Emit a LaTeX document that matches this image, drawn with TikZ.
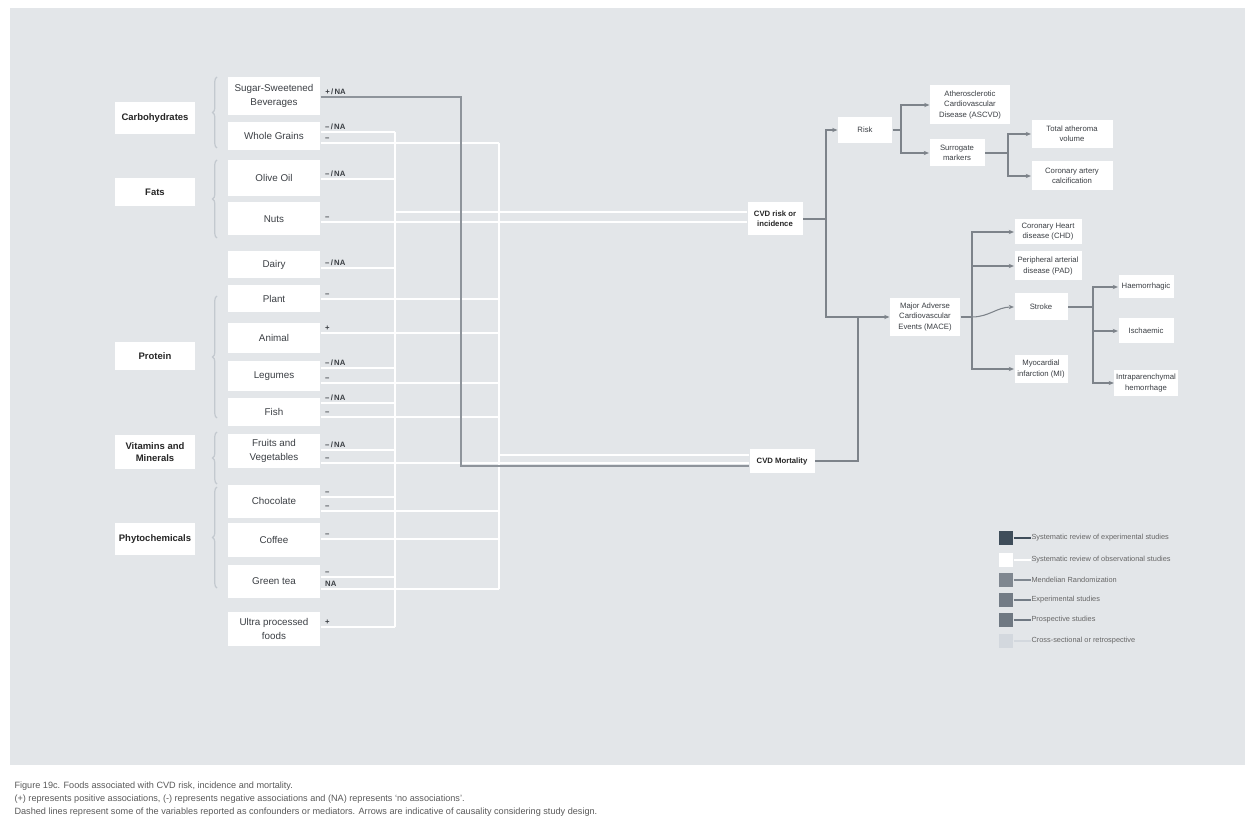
\documentclass[tikz,border=0pt]{standalone}
\usepackage{fontspec}
\setsansfont{Liberation Sans}
\usetikzlibrary{arrows.meta, positioning, calc, decorations.pathreplacing}
\definecolor{cpanel}{HTML}{E3E6E9}
\definecolor{cline}{HTML}{7D838A}
\definecolor{cdark}{HTML}{8E949B}
\definecolor{ctext}{HTML}{3B3F44}
\definecolor{cbrace}{HTML}{C3C9CF}
\definecolor{clegA}{HTML}{3F4D5A}
\definecolor{clegC}{HTML}{7F8790}
\definecolor{clegD}{HTML}{737C86}
\definecolor{clegE}{HTML}{6F7882}
\definecolor{clegF}{HTML}{D3D8DE}
\newcommand\minusna{–\,/\,NA}
\newcommand\plusna{+\,/\,NA}
\tikzset{
  every picture/.style={font=\sffamily, line width=0.6pt},
  box/.style={fill=white, align=center, inner sep=1pt, text=ctext},
  cat/.style={box, text=black!85, font=\sffamily\bfseries\fontsize{5.4}{6.6}\selectfont},
  food/.style={box, font=\sffamily\fontsize{5.6}{7.6}\selectfont},
  endbox/.style={box, font=\sffamily\fontsize{4.4}{5.8}\selectfont},
  endboxb/.style={endbox, text=black!85, font=\sffamily\bfseries\fontsize{4.4}{5.8}\selectfont},
  wl/.style={draw=white, line width=1.1pt},
  dl/.style={draw=cdark, line width=1.2pt},
  gl/.style={draw=cline, line width=0.6pt},
  ga/.style={gl, -{Stealth[length=3pt, width=2.4pt]}},
  lbl/.style={font=\sffamily\bfseries\fontsize{4.4}{4.6}\selectfont, text=ctext, inner sep=0.6pt},
  brc/.style={decorate, decoration={brace, amplitude=2.5pt}, draw=cbrace, line width=0.7pt},
  legsq/.style={minimum size=0.28cm, inner sep=0pt},
  legtx/.style={font=\sffamily\fontsize{4.2}{5}\selectfont, text=black!60, inner sep=0pt},
  captxt/.style={font=\sffamily\fontsize{5.2}{6}\selectfont, text=black!65, inner sep=0pt},
}

\begin{document}
\begin{tikzpicture}[x=0.02cm, y=-0.02cm,
  sz/.style 2 args={minimum width=#1*0.02cm, minimum height=#2*0.02cm}]
  \useasboundingbox (0,0) rectangle (1247,834);
  \fill[cpanel] (10,8) rectangle (1245,765);
  % food groups
  \foreach \n/\y/\h/\t in {carb/118/32/Carbohydrates, fats/192/28/Fats, prot/356/28/Protein,
                           vitm/452/34/{Vitamins and\\Minerals}, phyt/539/32/Phytochemicals}
    \node[cat, sz={80}{\h}] (\n) at (155,\y) {\t};
  \foreach \a/\b in {77/148, 160/238, 296/418, 432/484, 487/588}
    \draw[brc] (217,\b) -- (217,\a);
  % foods
  \foreach \n/\y/\h/\t in {ssb/96/38/{Sugar-Sweetened\\Beverages}, wg/136/28/Whole Grains, oil/178/36/Olive Oil,
                           nuts/219/33/Nuts, dairy/265/27/Dairy, plant/299/27/Plant, animal/338/30/Animal,
                           leg/376/29/Legumes, fish/412/28/Fish, fv/451/34/{Fruits and\\Vegetables},
                           choc/501/33/Chocolate, coffee/540/34/Coffee, tea/581/33/Green tea,
                           upf/629/34/{Ultra processed\\foods}}
    \node[food, sz={92}{\h}] (\n) at (274,\y) {\t};
  % outcomes
  \node[endboxb, sz={55}{33}] (cvdr) at (775,219) {CVD risk or\\incidence};
  \node[endboxb, sz={65}{24}] (cvdm) at (782,461) {CVD Mortality};
  \node[endbox, sz={54}{26}] (risk) at (865,130) {Risk};
  \node[endbox, sz={80}{39}] (ascvd) at (970,105) {Atherosclerotic\\Cardiovascular\\Disease (ASCVD)};
  \node[endbox, sz={55}{27}] (surr) at (957,153) {Surrogate\\markers};
  \node[endbox, sz={81}{28}] (tav) at (1072,134) {Total atheroma\\volume};
  \node[endbox, sz={81}{29}] (cac) at (1072,176) {Coronary artery\\calcification};
  \node[endbox, sz={70}{38}] (mace) at (925,317) {Major Adverse\\Cardiovascular\\Events (MACE)};
  \node[endbox, sz={67}{25}] (chd) at (1048,232) {Coronary Heart\\disease (CHD)};
  \node[endbox, sz={67}{29}] (pad) at (1048,266) {Peripheral arterial\\disease (PAD)};
  \node[endbox, sz={53}{27}] (stroke) at (1041,307) {Stroke};
  \node[endbox, sz={53}{28}] (mi) at (1041,369) {Myocardial\\infarction (MI)};
  \node[endbox, sz={55}{23}] (haem) at (1146,287) {Haemorrhagic};
  \node[endbox, sz={55}{25}] (isch) at (1146,331) {Ischaemic};
  \node[endbox, sz={55}{26}] (intra) at (1146,383) {Intraparenchymal\\hemorrhage};
  % buses
  \coordinate (busA) at (395,132); \coordinate (busAend) at (395,627);
  \coordinate (busB) at (499,143); \coordinate (busBend) at (499,589);
  \coordinate (busD) at (461,466);
  \draw[wl] (busA) -- (busAend);
  \draw[wl] (busB) -- (busBend);
  \draw[wl] (busA |- 0,212) -- (cvdr.west |- 0,212);
  \draw[wl] (busB |- 0,455) -- (cvdm.west |- 0,455);
  % food -> bus A
  \foreach \f/\y/\t in {wg/132/\minusna, oil/179/\minusna, dairy/268/\minusna, leg/368/\minusna, fish/403/\minusna,
                        fv/450/\minusna, choc/497/–, tea/577/–, upf/627/+}
    \draw[wl] (\f.east |- 0,\y) -- node[lbl, pos=0, anchor=south west, xshift=1.5pt] (la-\f) {\t} (busA |- 0,\y);
  % food -> bus B
  \foreach \f/\y/\t in {wg/143/–, plant/299/–, animal/333/+, leg/383/–, fish/417/–, choc/511/–, coffee/539/–, tea/589/NA}
    \draw[wl] (\f.east |- 0,\y) -- node[lbl, pos=0, anchor=south west, xshift=1.5pt] (lb-\f) {\t} (busB |- 0,\y);
  % direct
  \draw[wl] (nuts.east |- 0,222) -- node[lbl, pos=0, anchor=south west, xshift=1.5pt] (lc-nuts) {–} (cvdr.west |- 0,222);
  \draw[wl] (fv.east |- 0,463) -- node[lbl, pos=0, anchor=south west, xshift=1.5pt] (lc-fv) {–} (cvdm.west |- 0,463);
  \draw[dl] (ssb.east |- 0,97) -- node[lbl, pos=0, anchor=south west, xshift=1.5pt] (lc-ssb) {\plusna} (busD |- 0,97)
    -- (busD) -- (busD -| cvdm.west);
  % right side tree
  \coordinate (jr) at (826,219); \coordinate (jm) at (858,317);
  \coordinate (jk) at (901,130); \coordinate (js) at (1008,153);
  \coordinate (jmace) at (972,317); \coordinate (jst) at (1093,307);
  \draw[gl] (cvdr) -- (jr);
  \draw[ga] (jr) |- (risk);
  \draw[ga] (jr) |- (mace);
  \draw[gl] (cvdm) -| (jm);
  \draw[gl] (risk) -- (jk);
  \draw[ga] (jk) |- (ascvd);
  \draw[ga] (jk) |- (surr);
  \draw[gl] (surr) -- (js);
  \draw[ga] (js) |- (tav);
  \draw[ga] (js) |- (cac);
  \draw[gl] (mace) -- (jmace);
  \draw[ga] (jmace) |- (chd);
  \draw[ga] (jmace) |- (pad);
  \draw[ga] (jmace) |- (mi);
  \draw[ga] (jmace) to[out=0, in=180] (stroke);
  \draw[gl] (stroke) -- (jst);
  \draw[ga] (jst) |- (haem);
  \draw[ga] (jst) |- (isch);
  \draw[ga] (jst) |- (intra);
  % legend
  \foreach \i/\y/\c/\t in {1/538/clegA/Systematic review of experimental studies,
                           2/560/white/Systematic review of observational studies,
                           3/580/clegC/Mendelian Randomization,
                           4/600/clegD/Experimental studies,
                           5/620/clegE/Prospective studies,
                           6/641/clegF/Cross-sectional or retrospective} {
    \node[legsq, fill=\c] (sq\i) at (1006,\y) {};
    \node[legtx, anchor=west] (lt\i) at (1031,\y) {\t};
    \draw[draw=\c, line width=0.8pt] (sq\i) -- (lt\i);
  }
  % caption
  \node[captxt, anchor=west] (cap1) at (14,786) {Figure 19c. Foods associated with CVD risk, incidence and mortality.};
  \node[captxt, anchor=west] (cap2) at (14,799) {(+) represents positive associations, (-) represents negative associations and (NA) represents `no associations'.};
  \node[captxt, anchor=west] (cap3) at (14,812) {Dashed lines represent some of the variables reported as confounders or mediators. Arrows are indicative of causality considering study design.};
\end{tikzpicture}
\end{document}
